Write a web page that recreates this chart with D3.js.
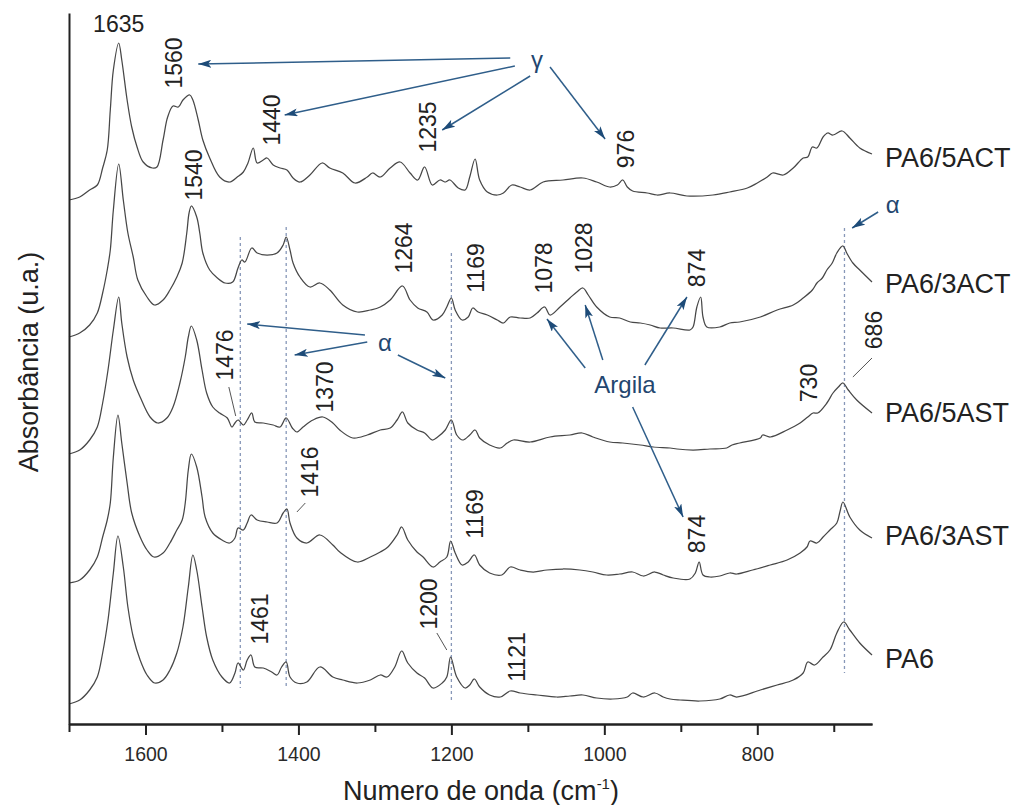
<!DOCTYPE html>
<html>
  <head>
    <meta charset="UTF-8" />
    <title>FTIR PA6</title>
    <style>
      body { margin: 0; background: #fff; }
      svg { font-family: 'Liberation Sans', Arial, sans-serif; }
      .curve { fill: none; stroke: #474747; stroke-width: 1.25; }
      .axis path, .axis line { stroke: #222; stroke-width: 2; }
      .axis text { font-size: 19.5px; fill: #2a2a2a; font-family: 'Liberation Sans', Arial, sans-serif; }
      .guide { stroke: #8797b8; stroke-width: 1.3; stroke-dasharray: 3,3; }
      .arrow { stroke: #2f5e8a; stroke-width: 1.5; }
      .leader { stroke: #555; stroke-width: 1; }
      .peak { font-size: 23px; fill: #222; }
      .note { font-size: 24px; fill: #23466f; }
      .series { font-size: 27px; fill: #222; }
      .title { font-size: 27px; fill: #222; }
    </style>
  </head>
  <body>
    <svg width="1019" height="805"></svg>
    <script src="https://cdnjs.cloudflare.com/ajax/libs/d3/7.8.5/d3.min.js"></script>
    <script>
      // spectra: [wavenumber (cm-1), absorbance (u.a.) above the series offset]
      const pa6 = [
        [1700, 0], [1686, 0.04], [1673, 0.14], [1663, 0.27], [1656, 0.51], [1649, 0.84],
        [1642, 1.31], [1636, 1.68], [1629, 1.37], [1623, 0.97], [1616, 0.67], [1607, 0.44],
        [1598, 0.29], [1588, 0.21], [1577, 0.24], [1568, 0.34], [1559, 0.51], [1551, 0.77],
        [1544, 1.17], [1538, 1.49], [1533, 1.34], [1526, 0.97], [1520, 0.67], [1512, 0.44],
        [1500, 0.27], [1490, 0.21], [1483, 0.31], [1479, 0.41], [1472, 0.34], [1467, 0.44],
        [1462, 0.49], [1457, 0.37], [1446, 0.36], [1435, 0.32], [1428, 0.29], [1422, 0.37],
        [1416, 0.42], [1411, 0.27], [1402, 0.21], [1389, 0.22], [1372, 0.37], [1355, 0.27],
        [1342, 0.24], [1323, 0.21], [1306, 0.24], [1293, 0.29], [1284, 0.27], [1274, 0.37],
        [1265, 0.53], [1257, 0.41], [1245, 0.31], [1235, 0.26], [1224, 0.16], [1212, 0.21],
        [1206, 0.27], [1201, 0.47], [1193, 0.27], [1182, 0.16], [1176, 0.19], [1170, 0.25],
        [1163, 0.17], [1150, 0.09], [1136, 0.07], [1123, 0.13], [1110, 0.11], [1088, 0.09],
        [1062, 0.07], [1045, 0.08], [1028, 0.09], [1010, 0.06], [989, 0.05], [970, 0.07],
        [963, 0.11], [949, 0.07], [934, 0.11], [923, 0.07], [914, 0.05], [901, 0.04],
        [875, 0.03], [849, 0.05], [836, 0.09], [827, 0.07], [796, 0.14], [774, 0.19],
        [753, 0.24], [740, 0.31], [734, 0.42], [725, 0.39], [714, 0.47], [705, 0.54],
        [696, 0.71], [687, 0.82], [679, 0.74], [666, 0.61], [650, 0.49]
      ];
      const pa6_3ast = [
        [1700, 0], [1686, 0.03], [1673, 0.13], [1663, 0.26], [1656, 0.46], [1650, 0.63],
        [1646, 0.80], [1642, 1.26], [1636, 1.68], [1631, 1.40], [1624, 1.00], [1618, 0.70],
        [1607, 0.46], [1598, 0.33], [1589, 0.26], [1577, 0.30], [1568, 0.40], [1559, 0.53],
        [1552, 0.63], [1548, 0.80], [1544, 1.13], [1540, 1.29], [1533, 1.16], [1526, 0.86],
        [1522, 0.66], [1512, 0.50], [1500, 0.43], [1490, 0.40], [1483, 0.45], [1479, 0.55],
        [1472, 0.53], [1467, 0.60], [1462, 0.68], [1454, 0.63], [1441, 0.61], [1428, 0.60],
        [1420, 0.70], [1415, 0.74], [1411, 0.60], [1402, 0.45], [1389, 0.40], [1372, 0.48],
        [1355, 0.38], [1346, 0.31], [1323, 0.21], [1306, 0.26], [1293, 0.31], [1283, 0.36],
        [1271, 0.48], [1265, 0.56], [1257, 0.43], [1245, 0.31], [1237, 0.26], [1224, 0.16],
        [1215, 0.21], [1206, 0.26], [1201, 0.42], [1195, 0.30], [1186, 0.18], [1178, 0.21],
        [1170, 0.28], [1163, 0.18], [1150, 0.10], [1134, 0.08], [1123, 0.16], [1110, 0.13],
        [1093, 0.11], [1075, 0.13], [1054, 0.14], [1032, 0.13], [1015, 0.11], [997, 0.08],
        [980, 0.09], [963, 0.11], [949, 0.07], [934, 0.11], [923, 0.08], [910, 0.05],
        [888, 0.04], [881, 0.10], [876, 0.21], [871, 0.08], [862, 0.06], [849, 0.07],
        [836, 0.10], [827, 0.09], [806, 0.13], [783, 0.18], [761, 0.23], [744, 0.30],
        [735, 0.36], [731, 0.42], [722, 0.40], [714, 0.46], [705, 0.53], [696, 0.60],
        [692, 0.71], [688, 0.81], [679, 0.66], [666, 0.53], [650, 0.45]
      ];
      const pa6_5ast = [
        [1700, 0], [1686, 0.04], [1673, 0.14], [1663, 0.27], [1656, 0.51], [1649, 0.84],
        [1642, 1.24], [1635, 1.57], [1631, 1.31], [1624, 0.97], [1616, 0.74], [1607, 0.57],
        [1594, 0.37], [1584, 0.31], [1572, 0.36], [1564, 0.47], [1555, 0.71], [1548, 0.97],
        [1544, 1.17], [1540, 1.28], [1533, 1.14], [1526, 0.84], [1520, 0.61], [1512, 0.47],
        [1503, 0.41], [1493, 0.36], [1487, 0.27], [1483, 0.31], [1479, 0.34], [1472, 0.29],
        [1467, 0.34], [1461, 0.41], [1457, 0.32], [1446, 0.31], [1433, 0.29], [1424, 0.27],
        [1416, 0.36], [1408, 0.26], [1402, 0.22], [1394, 0.27], [1381, 0.34], [1368, 0.37],
        [1355, 0.31], [1346, 0.24], [1329, 0.16], [1310, 0.19], [1293, 0.24], [1280, 0.26],
        [1271, 0.34], [1264, 0.42], [1257, 0.31], [1245, 0.24], [1235, 0.21], [1225, 0.14],
        [1218, 0.17], [1208, 0.24], [1200, 0.34], [1193, 0.19], [1185, 0.14], [1176, 0.19],
        [1169, 0.24], [1163, 0.16], [1150, 0.09], [1136, 0.06], [1127, 0.11], [1119, 0.14],
        [1097, 0.12], [1071, 0.17], [1045, 0.19], [1029, 0.21], [1015, 0.17], [993, 0.12],
        [976, 0.11], [953, 0.09], [936, 0.07], [914, 0.06], [905, 0.05], [884, 0.04],
        [862, 0.05], [840, 0.06], [833, 0.09], [823, 0.11], [796, 0.16], [793, 0.19],
        [783, 0.17], [761, 0.24], [744, 0.31], [734, 0.37], [727, 0.41], [721, 0.41],
        [709, 0.51], [701, 0.61], [694, 0.67], [688, 0.71], [681, 0.64], [670, 0.54],
        [650, 0.41]
      ];
      const pa6_3act = [
        [1700, 0], [1686, 0.04], [1673, 0.12], [1663, 0.24], [1656, 0.44], [1650, 0.67],
        [1646, 0.87], [1642, 1.27], [1635, 1.73], [1629, 1.37], [1623, 1.04], [1616, 0.80],
        [1610, 0.57], [1598, 0.40], [1588, 0.32], [1577, 0.37], [1568, 0.47], [1559, 0.60],
        [1552, 0.74], [1546, 1.04], [1543, 1.24], [1540, 1.31], [1533, 1.20], [1529, 1.04],
        [1525, 0.84], [1516, 0.67], [1506, 0.59], [1496, 0.54], [1486, 0.55], [1479, 0.69],
        [1474, 0.77], [1470, 0.75], [1461, 0.89], [1454, 0.84], [1441, 0.82], [1428, 0.84],
        [1420, 0.92], [1416, 1.00], [1411, 0.87], [1407, 0.74], [1398, 0.60], [1385, 0.50],
        [1372, 0.54], [1359, 0.47], [1342, 0.32], [1323, 0.25], [1306, 0.27], [1293, 0.30],
        [1280, 0.37], [1264, 0.51], [1254, 0.37], [1244, 0.29], [1232, 0.25], [1224, 0.17],
        [1212, 0.22], [1206, 0.30], [1200, 0.39], [1195, 0.27], [1186, 0.17], [1178, 0.20],
        [1172, 0.29], [1165, 0.25], [1153, 0.22], [1140, 0.17], [1132, 0.14], [1123, 0.20],
        [1110, 0.19], [1097, 0.19], [1088, 0.24], [1078, 0.30], [1071, 0.22], [1058, 0.30],
        [1045, 0.39], [1036, 0.45], [1028, 0.49], [1021, 0.42], [1010, 0.30], [993, 0.20],
        [980, 0.19], [966, 0.15], [953, 0.14], [940, 0.12], [927, 0.09], [910, 0.09],
        [888, 0.07], [884, 0.10], [879, 0.30], [874, 0.40], [871, 0.20], [866, 0.10],
        [849, 0.10], [836, 0.14], [823, 0.15], [796, 0.20], [774, 0.27], [753, 0.32],
        [740, 0.39], [728, 0.47], [722, 0.54], [715, 0.59], [709, 0.67], [702, 0.74],
        [696, 0.84], [688, 0.91], [683, 0.84], [675, 0.74], [666, 0.67], [650, 0.55]
      ];
      const pa6_5act = [
        [1700, 0], [1686, 0.03], [1673, 0.10], [1663, 0.15], [1656, 0.32], [1650, 0.50],
        [1646, 0.90], [1642, 1.30], [1635, 1.57], [1631, 1.40], [1624, 1.00], [1618, 0.73],
        [1611, 0.53], [1603, 0.38], [1591, 0.32], [1585, 0.33], [1577, 0.60], [1571, 0.83],
        [1564, 0.94], [1557, 0.93], [1551, 1.00], [1542, 1.05], [1538, 1.00], [1531, 0.80],
        [1525, 0.60], [1516, 0.42], [1503, 0.23], [1490, 0.18], [1480, 0.23], [1472, 0.28],
        [1466, 0.37], [1459, 0.52], [1454, 0.37], [1446, 0.40], [1441, 0.42], [1433, 0.35],
        [1424, 0.32], [1415, 0.30], [1407, 0.22], [1398, 0.18], [1385, 0.25], [1369, 0.37],
        [1359, 0.32], [1342, 0.27], [1326, 0.17], [1310, 0.23], [1303, 0.27], [1293, 0.23],
        [1280, 0.32], [1267, 0.38], [1254, 0.27], [1244, 0.20], [1235, 0.33], [1225, 0.15],
        [1215, 0.20], [1208, 0.18], [1202, 0.20], [1191, 0.12], [1182, 0.10], [1176, 0.23],
        [1169, 0.41], [1163, 0.20], [1153, 0.08], [1140, 0.05], [1132, 0.07], [1121, 0.15],
        [1110, 0.13], [1097, 0.10], [1080, 0.18], [1054, 0.20], [1028, 0.22], [1010, 0.18],
        [993, 0.13], [983, 0.15], [976, 0.20], [970, 0.13], [963, 0.09], [944, 0.07],
        [931, 0.05], [914, 0.07], [892, 0.04], [858, 0.05], [836, 0.08], [813, 0.12],
        [800, 0.17], [787, 0.23], [780, 0.27], [766, 0.25], [753, 0.32], [740, 0.42],
        [734, 0.43], [728, 0.53], [722, 0.52], [714, 0.63], [708, 0.67], [701, 0.65],
        [689, 0.69], [679, 0.62], [666, 0.52], [650, 0.46]
      ];

      const seriesNames = ['PA6', 'PA6/3AST', 'PA6/5AST', 'PA6/3ACT', 'PA6/5ACT'];
      const seriesData = [pa6, pa6_3ast, pa6_5ast, pa6_3act, pa6_5act];
      const offsets = [0.2, 1.41, 2.7, 3.87, 5.24];

      const majorTicks = [1600, 1400, 1200, 1000, 800];
      const minorTicks = [1700, 1500, 1300, 1100, 900, 700];

      // annotations, placed in data units [wavenumber, u.a.]
      const guideLines = [
        [1476, 4.87, 0.36],
        [1416, 4.97, 0.36],
        [1200, 4.71, 0.22],
        [686, 4.96, 0.51],
      ];
      const peakLabels = [
        ['1560', 1552, 6.61], ['1440', 1424, 6.04], ['1540', 1526, 5.49],
        ['1235', 1220, 5.97], ['976', 961, 5.75], ['1264', 1252, 4.76],
        ['1169', 1157, 4.56], ['1078', 1068, 4.56], ['1028', 1016, 4.76],
        ['874', 868, 4.56], ['1476', 1486, 3.69], ['1370', 1355, 3.37],
        ['686', 637, 3.94], ['730', 722, 3.41], ['1416', 1374, 2.52],
        ['1169', 1159, 2.1], ['874', 868, 1.9], ['1461', 1440, 1.05],
        ['1200', 1219, 1.2], ['1121', 1104, 0.67],
      ];
      const leaders = [
        [1491, 3.37, 1482, 3.08],
        [650, 3.66, 675, 3.47],
        [1391, 2.21, 1402, 2.12],
        [1219, 0.91, 1206, 0.74],
      ];
      const notes = [
        ['γ', 1088, 6.64], ['α', 623, 5.19], ['α', 1287, 3.81], ['Argila', 973, 3.39],
      ];
      const arrows = [
        [1123, 6.66, 1531, 6.6], [1117, 6.58, 1418, 6.09],
        [1097, 6.48, 1212, 5.94], [1071, 6.57, 999, 5.85],
        [642, 5.12, 676, 4.96],
        [1313, 3.89, 1467, 4.0], [1310, 3.82, 1405, 3.69], [1270, 3.69, 1208, 3.46],
        [1025, 3.56, 1075, 4.05], [1002, 3.64, 1025, 4.19],
        [947, 3.59, 892, 4.27], [963, 3.17, 897, 2.07],
      ];
      const seriesLabelPos = [0.56, 1.79, 3.02, 4.31, 5.57];

      const svg = d3.select('svg');

      const x = d3.scaleLinear().domain([1700, 650]).range([69, 872]);
      const y = d3.scaleLinear().domain([0, 7.11]).range([724, 13]);

      const defs = svg.append('defs');
      defs
        .append('marker')
        .attr('id', 'head')
        .attr('markerUnits', 'userSpaceOnUse')
        .attr('markerWidth', 14)
        .attr('markerHeight', 8)
        .attr('refX', 13)
        .attr('refY', 4)
        .attr('orient', 'auto')
        .append('path')
        .attr('d', 'M0,0 L13,4 L0,8 L3,4 z')
        .attr('fill', '#1d4b78');

      // dotted guides
      svg
        .selectAll('.guide')
        .data(guideLines)
        .enter()
        .append('line')
        .attr('class', 'guide')
        .attr('x1', (d) => x(d[0]))
        .attr('x2', (d) => x(d[0]))
        .attr('y1', (d) => y(d[1]))
        .attr('y2', (d) => y(d[2]));

      // spectra
      const line = d3
        .line()
        .x((d) => x(d[0]))
        .y((d) => d[1])
        .curve(d3.curveCatmullRom.alpha(0.5));

      seriesData.forEach((s, i) => {
        svg
          .append('path')
          .attr('class', 'curve')
          .attr('d', line(s.map((p) => [p[0], y(p[1] + offsets[i])])));
      });

      // axes
      svg
        .append('g')
        .attr('class', 'axis')
        .attr('transform', `translate(0,${y(0)})`)
        .call(
          d3
            .axisBottom(x)
            .tickValues(majorTicks)
            .tickSize(11)
            .tickSizeOuter(0)
            .tickPadding(12)
            .tickFormat(d3.format('d'))
        );
      svg
        .append('g')
        .attr('class', 'axis')
        .attr('transform', `translate(0,${y(0)})`)
        .call(d3.axisBottom(x).tickValues(minorTicks).tickSize(8).tickSizeOuter(0).tickFormat(''));
      svg
        .append('g')
        .attr('class', 'axis')
        .attr('transform', `translate(${x(1700)},0)`)
        .call(d3.axisLeft(y).tickValues([]).tickSizeOuter(0));

      // axis titles
      const xt = svg
        .append('text')
        .attr('class', 'title')
        .attr('x', 343)
        .attr('y', 800);
      xt.append('tspan').text('Numero de onda (cm');
      xt.append('tspan').attr('dy', -11).attr('font-size', 15).text('-1');
      xt.append('tspan').attr('dy', 11).text(')');

      svg
        .append('text')
        .attr('class', 'title')
        .attr('text-anchor', 'middle')
        .attr('transform', 'translate(38,362) rotate(-90)')
        .text('Absorbância (u.a.)');

      // peak labels
      svg
        .append('text')
        .attr('class', 'peak')
        .attr('text-anchor', 'middle')
        .attr('x', x(1635))
        .attr('y', y(6.92))
        .text('1635');

      svg
        .selectAll('.peakv')
        .data(peakLabels)
        .enter()
        .append('text')
        .attr('class', 'peak')
        .attr('text-anchor', 'middle')
        .attr('transform', (d) => `translate(${x(d[1])},${y(d[2])}) rotate(-90)`)
        .text((d) => d[0]);

      svg
        .selectAll('.leader')
        .data(leaders)
        .enter()
        .append('line')
        .attr('class', 'leader')
        .attr('x1', (d) => x(d[0]))
        .attr('y1', (d) => y(d[1]))
        .attr('x2', (d) => x(d[2]))
        .attr('y2', (d) => y(d[3]));

      // arrows and notes
      svg
        .selectAll('.arrow')
        .data(arrows)
        .enter()
        .append('line')
        .attr('class', 'arrow')
        .attr('x1', (d) => x(d[0]))
        .attr('y1', (d) => y(d[1]))
        .attr('x2', (d) => x(d[2]))
        .attr('y2', (d) => y(d[3]))
        .attr('marker-end', 'url(#head)');

      svg
        .selectAll('.note')
        .data(notes)
        .enter()
        .append('text')
        .attr('class', 'note')
        .attr('text-anchor', 'middle')
        .attr('dy', '0.35em')
        .attr('x', (d) => x(d[1]))
        .attr('y', (d) => y(d[2]))
        .text((d) => d[0]);

      // series labels
      svg
        .selectAll('.series')
        .data(seriesNames)
        .enter()
        .append('text')
        .attr('class', 'series')
        .attr('x', x(633))
        .attr('y', (d, i) => y(seriesLabelPos[i]))
        .text((d) => d);
    </script>
  </body>
</html>
